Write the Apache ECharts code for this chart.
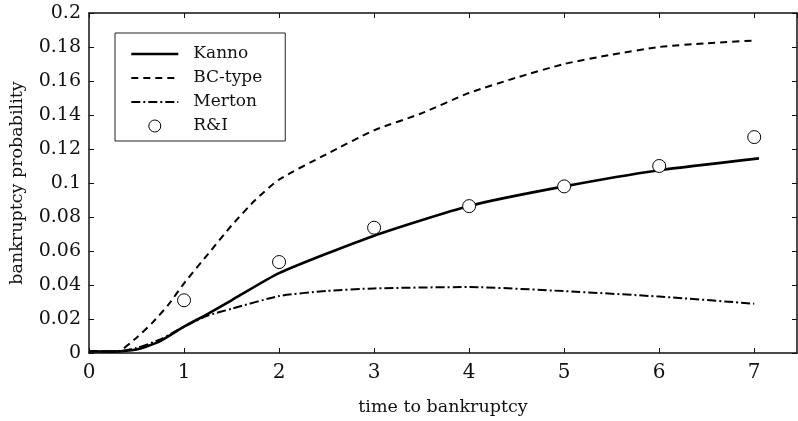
<!DOCTYPE html>
<html>
<head>
<meta charset="utf-8">
<script src="https://cdn.jsdelivr.net/npm/echarts@6/dist/echarts.min.js"></script>
<style>html,body{margin:0;padding:0;background:#fff}#c{width:798px;height:421px}</style>
</head>
<body>
<div id="c"></div>
<script>
// ---- data ----
var kannoT = [0, 0.25, 0.5, 0.75, 1, 1.25, 1.5, 2, 3, 4, 5, 6, 7.05];
var kannoV = [0.001, 0.0008, 0.002, 0.007, 0.0155, 0.023, 0.031, 0.047, 0.069, 0.0865, 0.098, 0.1075, 0.1145];
var bcT = [0, 0.3, 0.5, 0.67, 0.83, 1, 1.25, 1.5, 1.75, 2, 2.5, 3, 3.5, 4, 4.5, 5, 5.5, 6, 6.5, 7];
var bcV = [0.001, 0.001, 0.009, 0.018, 0.028, 0.041, 0.058, 0.075, 0.09, 0.102, 0.117, 0.131, 0.141, 0.153, 0.162, 0.170, 0.1755, 0.180, 0.1822, 0.1838];
var mertonT = [0, 0.3, 0.5, 0.75, 1, 1.25, 1.5, 2, 2.5, 3, 4, 5, 6, 7];
var mertonV = [0.001, 0.001, 0.003, 0.008, 0.0155, 0.022, 0.026, 0.0335, 0.0365, 0.038, 0.0388, 0.0364, 0.0332, 0.029];
var riT = [1, 2, 3, 4, 5, 6, 7];
var riV = [0.031, 0.0535, 0.0737, 0.0864, 0.098, 0.110, 0.127];

function pairs(t, v) { return t.map(function (x, i) { return [x, v[i]]; }); }

var FONT = 'DejaVu Serif';
var chart = echarts.init(document.getElementById('c'), null, { renderer: 'canvas' });
var axisLine = { show: true, onZero: false, lineStyle: { color: '#111', width: 1.5 } };
var tick = { show: true, inside: true, length: 5, lineStyle: { color: '#111' } };
var kannoLine = { color: '#000', width: 2.6, type: 'solid' };
var bcLine = { color: '#000', width: 2, type: [7, 5] };
var mertonLine = { color: '#000', width: 2, type: [9, 3, 2, 3] };
chart.setOption({
  animation: false,
  backgroundColor: '#fff',
  grid: { left: 89, right: 1, top: 13, bottom: 67, containLabel: false },
  xAxis: [{
    type: 'value', min: 0, max: 7.45, interval: 1, position: 'bottom',
    axisLine: axisLine, axisTick: tick,
    axisLabel: { show: true, showMaxLabel: false, margin: 10, color: '#111', fontFamily: FONT, fontSize: 20 },
    splitLine: { show: false },
    name: 'time to bankruptcy', nameLocation: 'middle', nameGap: 45,
    nameTextStyle: { color: '#111', fontFamily: FONT, fontSize: 17.5 }
  }, {
    type: 'value', min: 0, max: 7.45, interval: 1, position: 'top',
    axisLine: axisLine, axisTick: tick,
    axisLabel: { show: false }, splitLine: { show: false }
  }],
  yAxis: [{
    type: 'value', min: 0, max: 0.2, interval: 0.02, position: 'left',
    axisLine: axisLine, axisTick: tick,
    axisLabel: { margin: 8, color: '#111', fontFamily: FONT, fontSize: 19 },
    splitLine: { show: false },
    name: 'bankruptcy probability', nameLocation: 'middle', nameGap: 63, nameRotate: 90,
    nameTextStyle: { color: '#111', fontFamily: FONT, fontSize: 17.5 }
  }, {
    type: 'value', min: 0, max: 0.2, interval: 0.02, position: 'right',
    axisLine: axisLine, axisTick: tick,
    axisLabel: { show: false }, splitLine: { show: false }
  }],
  legend: {
    orient: 'vertical', left: 115, top: 33,
    padding: [12, 23, 6, 15],
    borderColor: '#222', borderWidth: 1,
    itemWidth: 47, itemHeight: 12, itemGap: 6,
    textStyle: { color: '#111', fontFamily: FONT, fontSize: 17, lineHeight: 18, padding: [0, 0, 0, 10] },
    data: [
      { name: 'Kanno', itemStyle: { opacity: 0 }, lineStyle: kannoLine },
      { name: 'BC-type', itemStyle: { opacity: 0 }, lineStyle: bcLine },
      { name: 'Merton', itemStyle: { opacity: 0 }, lineStyle: mertonLine },
      { name: 'R&I', itemStyle: { color: '#fff', borderColor: '#000', borderWidth: 1 } }
    ]
  },
  series: [{
    name: 'Kanno', type: 'line', data: pairs(kannoT, kannoV),
    symbol: 'none', smooth: 0.2,
    lineStyle: kannoLine, itemStyle: { color: '#000' }
  }, {
    name: 'BC-type', type: 'line', data: pairs(bcT, bcV),
    symbol: 'none', smooth: 0.2,
    lineStyle: bcLine, itemStyle: { color: '#000' }
  }, {
    name: 'Merton', type: 'line', data: pairs(mertonT, mertonV),
    symbol: 'none', smooth: 0.2,
    lineStyle: mertonLine, itemStyle: { color: '#000' }
  }, {
    name: 'R&I', type: 'scatter', data: pairs(riT, riV),
    symbol: 'circle', symbolSize: 13, z: 5,
    itemStyle: { color: '#fff', borderColor: '#000', borderWidth: 1, opacity: 1 }
  }]
});
</script>
</body>
</html>
